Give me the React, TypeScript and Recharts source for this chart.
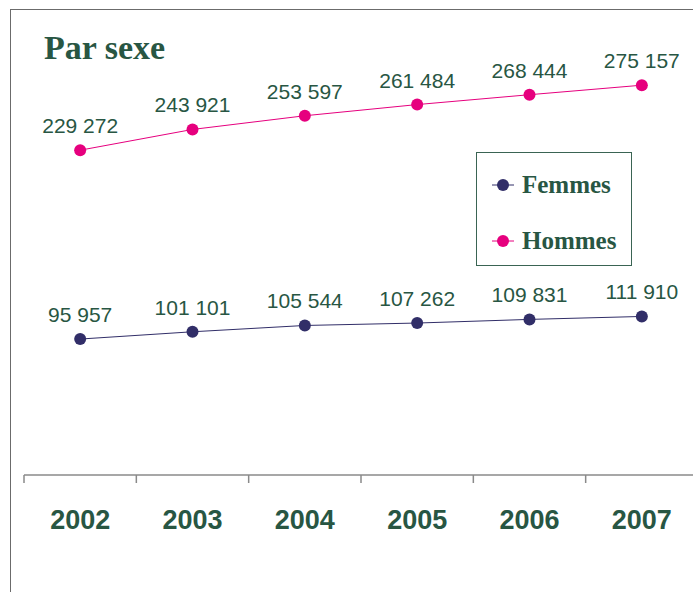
import React from 'react';
import { LineChart, Line, XAxis, YAxis, LabelList } from 'recharts';

const years = ['2002', '2003', '2004', '2005', '2006', '2007'];
const femmes = [95957, 101101, 105544, 107262, 109831, 111910];
const hommes = [229272, 243921, 253597, 261484, 268444, 275157];
const seriesNames = ['Femmes', 'Hommes'];
const title = 'Par sexe';

const data = years.map((y, i) => ({ year: y, Femmes: femmes[i], Hommes: hommes[i] }));

const GREEN = '#285643';
const NAVY = '#312e68';
const MAGENTA = '#e6007e';
const SANS = '"Liberation Sans", Arial, sans-serif';
const SERIF = '"Liberation Serif", "DejaVu Serif", serif';

const fmt = (v: number) => String(v).replace(/\B(?=(\d{3})+(?!\d))/g, ' ');

const YearTick = (props: any) => {
  const { x, y, payload, width, visibleTicksCount, index } = props;
  const half = width / visibleTicksCount / 2;
  return (
    <g>
      <line x1={x - half} y1={y} x2={x - half} y2={y + 8} stroke="#8a8a8a" strokeWidth={1.5} />
      {index === visibleTicksCount - 1 && (
        <line x1={x + half} y1={y} x2={x + half} y2={y + 8} stroke="#8a8a8a" strokeWidth={1.5} />
      )}
      <text
        x={x}
        y={y + 54}
        textAnchor="middle"
        fontSize={27}
        fontWeight="bold"
        fill={GREEN}
        fontFamily={SANS}
      >
        {payload.value}
      </text>
    </g>
  );
};

const LegendBox = () => (
  <div
    style={{
      position: 'absolute',
      left: 476,
      top: 152,
      width: 156,
      height: 114,
      border: '1px solid #3a6453',
      boxSizing: 'border-box',
      background: '#fff',
    }}
  >
    {seriesNames.map((n, i) => (
      <div
        key={n}
        style={{ position: 'absolute', left: 15, top: 17 + i * 56, height: 30, display: 'flex', alignItems: 'center' }}
      >
        <svg width={24} height={14} style={{ display: 'block' }}>
          <line x1={0} y1={7} x2={22} y2={7} stroke={i === 0 ? NAVY : MAGENTA} strokeWidth={1} />
          <circle cx={11} cy={7} r={6} fill={i === 0 ? NAVY : MAGENTA} />
        </svg>
        <span style={{ marginLeft: 6, fontFamily: SERIF, fontWeight: 'bold', fontSize: 25, color: GREEN }}>{n}</span>
      </div>
    ))}
  </div>
);

export default function App() {
  return (
    <div style={{ position: 'fixed', left: 0, top: 0, width: 693, height: 592, overflow: 'hidden', background: '#fff' }}>
      <div
        style={{
          position: 'absolute',
          left: 10,
          top: 9,
          width: 720,
          height: 640,
          borderLeft: '1.5px solid #6b6b6b',
          borderTop: '1.5px solid #6b6b6b',
        }}
      />
      <div style={{ position: 'absolute', left: 0, top: 1 }}>
        <LineChart width={720} height={592} data={data} margin={{ top: 49, right: 22, bottom: 58, left: 24 }}>
          <XAxis
            dataKey="year"
            scale="band"
            stroke="#8a8a8a"
            strokeWidth={1.5}
            tickLine={false}
            tickSize={0}
            tickMargin={0}
            interval={0}
            tick={<YearTick />}
            height={60}
          />
          <YAxis hide domain={[0, 300000]} />
          <Line
            dataKey="Femmes"
            stroke={NAVY}
            strokeWidth={1}
            dot={{ r: 6, fill: NAVY, stroke: NAVY, strokeWidth: 0 }}
            isAnimationActive={false}
          >
            <LabelList
              dataKey="Femmes"
              position="top"
              offset={17}
              formatter={(v: any) => fmt(v)}
              style={{ fontSize: 21, fill: GREEN, fontFamily: SANS }}
            />
          </Line>
          <Line
            dataKey="Hommes"
            stroke={MAGENTA}
            strokeWidth={1}
            dot={{ r: 6, fill: MAGENTA, stroke: MAGENTA, strokeWidth: 0 }}
            isAnimationActive={false}
          >
            <LabelList
              dataKey="Hommes"
              position="top"
              offset={17}
              formatter={(v: any) => fmt(v)}
              style={{ fontSize: 21, fill: GREEN, fontFamily: SANS }}
            />
          </Line>
        </LineChart>
      </div>
      <div
        style={{
          position: 'absolute',
          left: 44,
          top: 26,
          fontFamily: SERIF,
          fontWeight: 'bold',
          fontSize: 34,
          color: GREEN,
          lineHeight: '44px',
        }}
      >
        {title}
      </div>
      <LegendBox />
    </div>
  );
}
